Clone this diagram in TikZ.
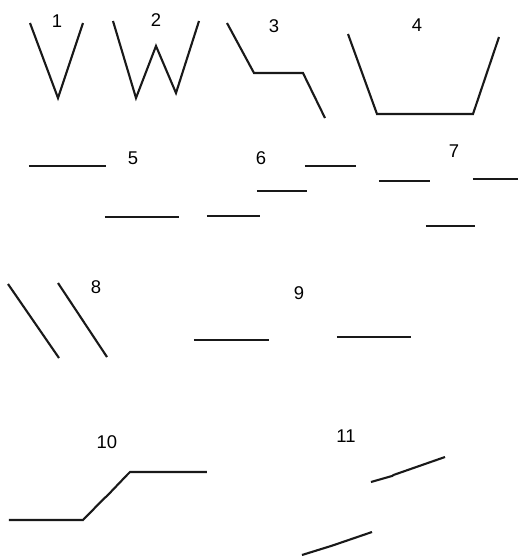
\documentclass[tikz,border=0pt]{standalone}
\usepackage{fontspec}
\setmainfont{Liberation Sans}
\usepackage{tikz}

\begin{document}
\begin{tikzpicture}[x=0.02cm, y=-0.02cm,
  seg/.style={draw=black!90, line width=1.2pt},
  num/.style={font=\fontsize{10.5}{12}\selectfont, inner sep=0pt}
]
  \useasboundingbox (0,0) rectangle (519,556);
  % row 1
  \node[num] (n1) at (57,21) {1};
  \draw[seg] (30,23) -- (58,98) -- (83,23);
  \node[num] (n2) at (156,20) {2};
  \draw[seg] (113,21) -- (136,98) -- (156,46) -- (176,93) -- (199,21);
  \node[num] (n3) at (274,26) {3};
  \draw[seg] (227,23) -- (254,73) -- (303,73) -- (325,118);
  \node[num] (n4) at (417,25) {4};
  \draw[seg] (348,34) -- (377,114) -- (473,114) -- (499,37);
  % row 2
  \node[num] (n5) at (133,158) {5};
  \draw[seg] (29,166) -- (106,166);
  \draw[seg] (105,217) -- (179,217);
  \node[num] (n6) at (261,158) {6};
  \draw[seg] (305,166) -- (356,166);
  \draw[seg] (257,191) -- (307,191);
  \draw[seg] (207,216) -- (260,216);
  \node[num] (n7) at (454,151) {7};
  \draw[seg] (379,181) -- (430,181);
  \draw[seg] (473,179) -- (518,179);
  \draw[seg] (426,226) -- (475,226);
  % row 3
  \node[num] (n8) at (96,287) {8};
  \draw[seg] (8,284) -- (59,358);
  \draw[seg] (58,283) -- (107,357);
  \node[num] (n9) at (299,293) {9};
  \draw[seg] (194,340) -- (269,340);
  \draw[seg] (337,337) -- (411,337);
  % row 4
  \node[num] (n10) at (107,442) {10};
  \draw[seg] (9,520) -- (83,520) -- (105,497.5) -- (106,497) -- (127,475) -- (130,472) -- (207,472);
  \node[num] (n11) at (346,436) {11};
  \draw[seg] (371,482) -- (392,476) -- (394,474.8) -- (445,457);
  \draw[seg] (302,555) -- (331,546) -- (334,545) -- (372,532);
\end{tikzpicture}
\end{document}
